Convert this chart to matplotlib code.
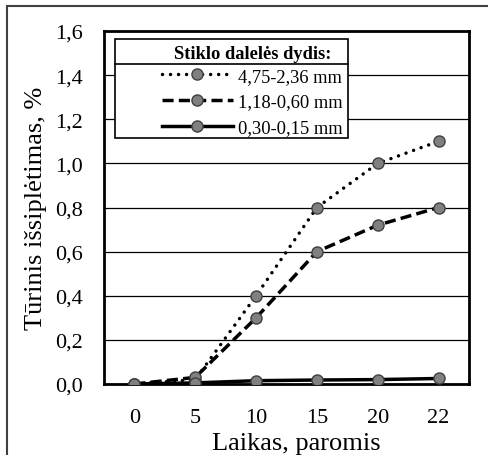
import matplotlib
matplotlib.use('Agg')
import matplotlib.pyplot as plt
from matplotlib.patches import Rectangle

days = ["0", "5", "10", "15", "20", "22"]
big = [0.0, 0.02, 0.40, 0.80, 1.00, 1.10]
mid = [0.0, 0.03, 0.30, 0.60, 0.72, 0.80]
small = [0.0, 0.005, 0.015, 0.018, 0.02, 0.025]
labels = ["4,75-2,36 mm", "1,18-0,60 mm", "0,30-0,15 mm"]
yticks = [0.0, 0.2, 0.4, 0.6, 0.8, 1.0, 1.2, 1.4, 1.6]

plt.rcParams['font.family'] = 'Liberation Serif'

fig = plt.figure(figsize=(4.88, 4.56), dpi=100)
ax = fig.add_axes([104 / 488, 1 - 385 / 456, 365 / 488, 353 / 456])

# outer frame (only top/left visible in the original)
fig.patches.append(Rectangle((7 / 488, -0.1), 1.2, 1 - 7 / 456 + 0.1,
                             transform=fig.transFigure, fill=False,
                             edgecolor="#404040", linewidth=1.5))

x = list(range(len(days)))
mk = dict(marker="o", markersize=8, markerfacecolor="#808080",
          markeredgecolor="#404040", markeredgewidth=1, color="black",
          linewidth=2.5)
ax.plot(x, big, linestyle=(0, (0.01, 2.3)), dash_capstyle="round",
        label=labels[0], zorder=3, **mk)
ax.plot(x, mid, linestyle=(0, (3.2, 1.5)), label=labels[1], zorder=3, **mk)
ax.plot(x, small, linestyle="-", label=labels[2], zorder=3, **mk)

ax.set_xlim(-0.5, len(days) - 0.5)
ax.set_xticks(x)
ax.set_xticklabels(days)
ax.set_ylim(0, 1.6)
ax.set_yticks(yticks)
ax.set_yticklabels([f"{v:.1f}".replace(".", ",") for v in yticks])
ax.yaxis.grid(True, color="black", linewidth=0.9)
ax.set_axisbelow(True)
ax.tick_params(labelsize=16, length=0)
ax.tick_params(axis="y", pad=15)
ax.tick_params(axis="x", pad=17)
for s in ax.spines.values():
    s.set_linewidth(2)

ax.set_xlabel("Laikas, paromis", fontsize=19)
ax.xaxis.set_label_coords(0.526, -0.137)
ax.set_ylabel("Tūrinis išsiplėtimas, %", fontsize=19)
ax.yaxis.set_label_coords(-0.155, 0.5)

# legend box drawn by hand: wider on the left than the entries
ax.add_patch(Rectangle((0.030, 0.696), 0.638, 0.281, transform=ax.transAxes,
                       facecolor="white", edgecolor="black", linewidth=1.2,
                       zorder=4))
ax.plot([0.030, 0.668], [0.907, 0.907], transform=ax.transAxes,
        color="black", linewidth=1.2, zorder=5)

leg = ax.legend(loc="upper right", bbox_to_anchor=(0.655, 0.960), fontsize=13.3,
                title="Stiklo dalelės dydis:",
                title_fontproperties={"weight": "bold", "size": 13.3},
                frameon=False, handlelength=3.8, handletextpad=0.32,
                borderpad=0, labelspacing=0.48, borderaxespad=0)
leg.set_zorder(6)
leg._legend_box.sep = 4

fig.savefig("out.png", dpi=100)
